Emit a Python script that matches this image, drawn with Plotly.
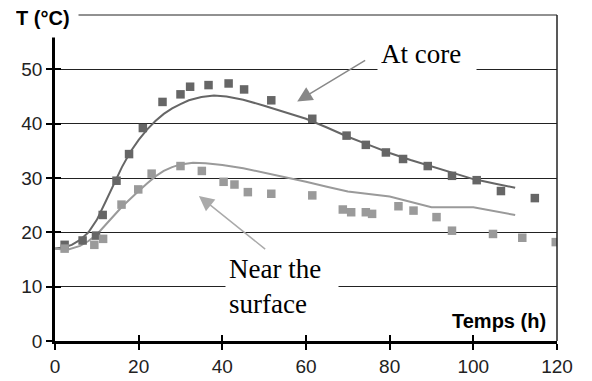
import plotly.graph_objects as go

# ---- data ----
core_obs_t = [2.3, 6.6, 9.8, 11.4, 14.7, 17.7, 21.0, 25.7, 30.0, 32.3, 36.7, 41.5, 45.2, 51.7,
              61.5, 69.7, 74.3, 79.1, 83.2, 89.1, 94.9, 100.8, 106.6, 114.7]
core_obs_T = [17.7, 18.5, 19.4, 23.2, 29.5, 34.4, 39.2, 44.0, 45.4, 46.8, 47.1, 47.4, 46.3, 44.3,
              40.9, 37.8, 36.1, 34.7, 33.5, 32.2, 30.4, 29.6, 27.6, 26.3]

surf_obs_t = [2.3, 9.4, 11.5, 15.9, 19.9, 23.1, 30.0, 35.1, 40.3, 42.9, 46.1, 51.7, 61.5,
              68.8, 70.8, 74.3, 75.8, 82.1, 85.7, 91.2, 94.9, 104.7, 111.7, 119.7]
surf_obs_T = [17.0, 17.7, 18.8, 25.1, 27.9, 30.8, 32.2, 31.3, 29.3, 28.8, 27.4, 27.1, 26.8,
              24.2, 23.7, 23.7, 23.4, 24.8, 24.0, 22.8, 20.3, 19.7, 19.0, 18.2]

core_model_t = [0, 2, 4, 6, 8, 10, 12, 14, 16, 18, 20, 22, 24, 26, 28, 30, 32, 35, 38, 41,
                45, 50, 55, 60, 65, 70, 75, 80, 85, 90, 95, 100, 105, 110]
core_model_T = [17.0, 17.2, 17.7, 18.6, 20.0, 22.3, 25.5, 28.8, 32.0, 34.8, 37.0, 38.9, 40.5,
                41.8, 42.8, 43.6, 44.3, 44.9, 45.2, 45.0, 44.4, 43.3, 42.1, 40.9, 39.3, 37.6,
                36.1, 34.6, 33.3, 32.1, 30.9, 29.8, 29.0, 28.2]

surf_model_t = [0, 3, 6, 8, 10, 12, 14, 16, 18, 20, 22, 24, 26, 28, 30, 33, 36, 40, 45, 50,
                55, 60, 65, 70, 80, 90, 100, 110]
surf_model_T = [17.0, 16.8, 17.5, 18.4, 19.6, 21.2, 23.0, 24.7, 26.2, 27.6, 29.0, 30.3, 31.3,
                32.0, 32.5, 32.8, 32.7, 32.4, 31.8, 31.0, 30.2, 29.3, 28.4, 27.5, 26.6, 24.6,
                24.6, 23.2]

x_ticks = [0, 20, 40, 60, 80, 100, 120]
y_ticks = [0, 10, 20, 30, 40, 50, 60]
y_labels = ["0", "10", "20", "30", "40", "50", ""]

DARK = "#666666"
LIGHT = "#9a9a9a"
SANS = "Liberation Sans, Arial, sans-serif"
SERIF = "Liberation Serif, Times New Roman, serif"

fig = go.Figure()
fig.add_trace(go.Scatter(x=core_model_t, y=core_model_T, mode="lines",
                         line=dict(color=DARK, width=2), showlegend=False))
fig.add_trace(go.Scatter(x=surf_model_t, y=surf_model_T, mode="lines",
                         line=dict(color=LIGHT, width=2), showlegend=False))
fig.add_trace(go.Scatter(x=core_obs_t, y=core_obs_T, mode="markers",
                         marker=dict(symbol="square", size=8.5, color=DARK), showlegend=False))
fig.add_trace(go.Scatter(x=surf_obs_t, y=surf_obs_T, mode="markers",
                         marker=dict(symbol="square", size=8.5, color=LIGHT), showlegend=False))
# dummy trace for overlay axes (inner tick halves)
fig.add_trace(go.Scatter(x=[], y=[], xaxis="x2", yaxis="y2", showlegend=False))

fig.update_layout(
    width=592, height=381,
    margin=dict(l=54.5, r=35, t=14.5, b=40, autoexpand=False),
    paper_bgcolor="white", plot_bgcolor="white",
    xaxis=dict(range=[0, 120], tickvals=x_ticks, ticks="outside", ticklen=6, tickwidth=2,
               tickcolor="black", showgrid=False, zeroline=False, showline=True,
               linewidth=2.5, linecolor="black", automargin=False,
               tickfont=dict(family=SANS, size=19, color="#222")),
    yaxis=dict(range=[0, 60], tickvals=y_ticks, ticktext=y_labels, ticks="outside", ticklen=6,
               tickwidth=2, tickcolor="black", showgrid=True, gridcolor="#222", gridwidth=1,
               zeroline=False, showline=True, linewidth=2.5, linecolor="black",
               automargin=False,
               tickfont=dict(family=SANS, size=19, color="#222")),
    xaxis2=dict(overlaying="x", anchor="y2", range=[0, 120], tickvals=x_ticks, ticks="inside",
                ticklen=6, tickwidth=2, tickcolor="black", showticklabels=False,
                showgrid=False, zeroline=False, showline=False, automargin=False),
    yaxis2=dict(overlaying="y", anchor="x2", range=[0, 60], tickvals=y_ticks[:-1], ticks="inside",
                ticklen=6, tickwidth=2, tickcolor="black", showticklabels=False,
                showgrid=False, zeroline=False, showline=False, automargin=False),
    shapes=[
        dict(type="line", xref="paper", yref="paper", x0=0, x1=1, y0=1, y1=1,
             line=dict(color="#222", width=1)),
        dict(type="line", xref="paper", yref="paper", x0=1, x1=1, y0=0, y1=1,
             line=dict(color="#222", width=1.5)),
    ],
    annotations=[
        # arrows
        dict(x=57.9, y=44.1, ax=74.5, ay=51.8, xref="x", yref="y", axref="x", ayref="y",
             text="", showarrow=True, arrowhead=2, arrowsize=2, arrowwidth=1.5,
             arrowcolor="#888888"),
        dict(x=34.4, y=26.7, ax=50.6, ay=16.7, xref="x", yref="y", axref="x", ayref="y",
             text="", showarrow=True, arrowhead=2, arrowsize=2, arrowwidth=1.5,
             arrowcolor="#aaaaaa"),
        # labels
        dict(x=77.0, y=52.9, xref="x", yref="y", xanchor="left", yanchor="middle",
             text="At core", showarrow=False, bgcolor="white", borderpad=3, width=92,
             align="left", font=dict(family=SERIF, size=27, color="black")),
        dict(x=40.7, y=10, xref="x", yref="y", xanchor="left", yanchor="middle",
             text="Near the<br>surface", showarrow=False, bgcolor="white", borderpad=3,
             width=106, align="left", font=dict(family=SERIF, size=27, color="black")),
        dict(x=-0.0845, y=1.0346, xref="paper", yref="paper", xanchor="left", yanchor="top",
             text="<b>T (°C)</b>", showarrow=False, bgcolor="white", borderpad=2, width=60,
             height=28, align="left", valign="top",
             font=dict(family=SANS, size=20, color="black")),
        dict(x=0.9815, y=3.6, xref="paper", yref="y", xanchor="right", yanchor="middle",
             text="<b>Temps (h)</b>", showarrow=False,
             font=dict(family=SANS, size=20, color="black")),
    ],
)

fig.write_html("out.html")
